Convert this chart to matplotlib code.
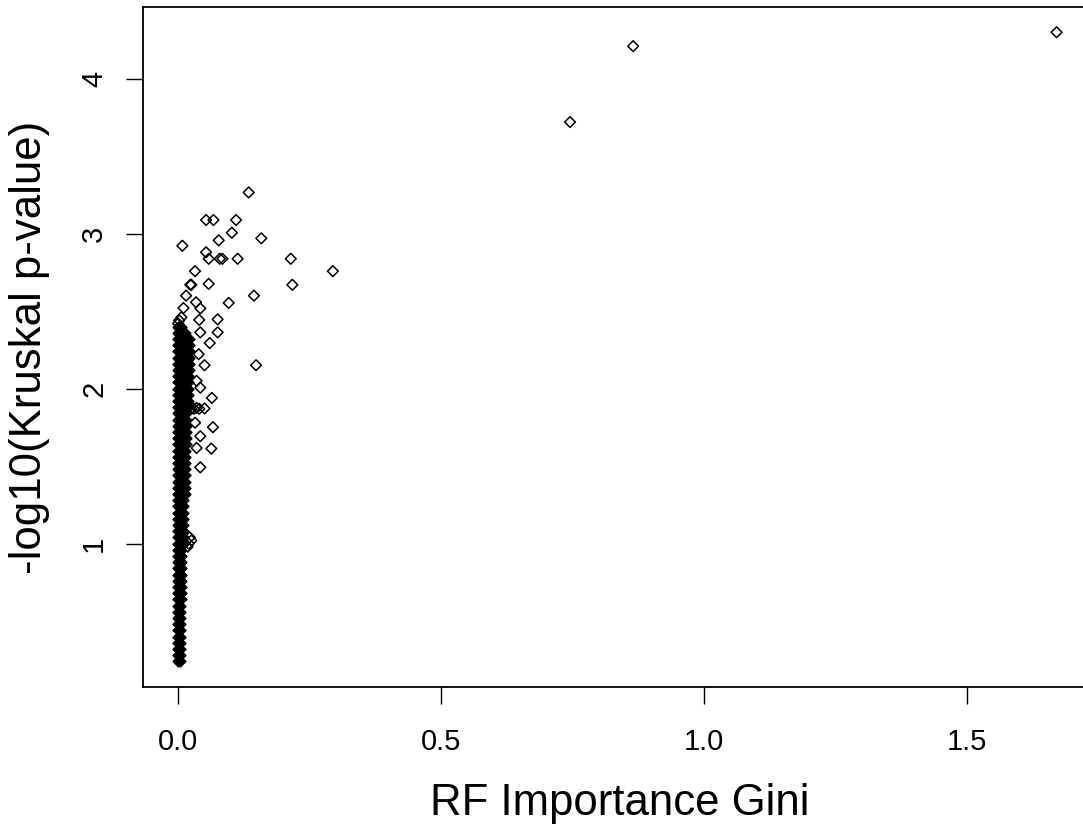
import matplotlib
matplotlib.use("Agg")
import matplotlib.pyplot as plt

plt.rcParams["font.family"] = ["Liberation Sans", "DejaVu Sans"]

# Isolated points (RF Gini importance, -log10 Kruskal p-value)
out_x = [0.745, 0.865, 1.670,
         0.134, 0.053, 0.067, 0.110, 0.102, 0.077, 0.158, 0.008, 0.053,
         0.058, 0.079, 0.084, 0.113, 0.214, 0.294, 0.032, 0.217, 0.058,
         0.023, 0.025, 0.144, 0.096, 0.042, 0.015, 0.010, 0.034, 0.040,
         0.075, 0.075, 0.042, 0.060, 0.148, 0.050, 0.039, 0.035, 0.042,
         0.064, 0.050, 0.066, 0.042, 0.063, 0.035, 0.042, 0.032,
         0.025, 0.030, 0.035, 0.040, 0.022, 0.025, 0.020, 0.018,
         0.002, 0.006, 0.000]
out_y = [3.72, 4.21, 4.30,
         3.266, 3.088, 3.088, 3.088, 3.006, 2.957, 2.970, 2.922, 2.880,
         2.838, 2.838, 2.838, 2.838, 2.838, 2.758, 2.758, 2.670, 2.676,
         2.670, 2.670, 2.600, 2.553, 2.518, 2.600, 2.520, 2.557, 2.443,
         2.447, 2.363, 2.363, 2.294, 2.151, 2.151, 2.222, 2.050, 2.006,
         1.940, 1.872, 1.751, 1.693, 1.613, 1.617, 1.492, 1.780,
         1.870, 1.870, 1.875, 1.870, 1.040, 1.020, 1.000, 0.980,
         2.440, 2.460, 2.420]

# Dense core near zero importance: row heights and how far each row reaches
core_y = [0.24, 0.28, 0.32, 0.36, 0.40, 0.44, 0.48, 0.52, 0.56, 0.60,
          0.64, 0.68, 0.72, 0.76, 0.80, 0.84, 0.88, 0.92, 0.96,
          1.00, 1.04, 1.08, 1.12, 1.16, 1.20, 1.24, 1.28,
          1.32, 1.36, 1.40, 1.44, 1.48, 1.52, 1.56, 1.60,
          1.64, 1.68, 1.72, 1.76, 1.80, 1.84,
          1.88, 1.92, 1.96, 2.00, 2.04, 2.08,
          2.12, 2.16, 2.20, 2.24, 2.28, 2.32,
          2.36, 2.40]
core_xmax = [0.003] * 10 + [0.006] * 9 + [0.009] * 8 + [0.012] * 8 + \
            [0.015] * 6 + [0.018] * 6 + [0.021] * 6 + [0.012, 0.006]
core_dx = [0.0, 0.003, 0.006, 0.009, 0.012, 0.015, 0.018, 0.021]

cx, cy = [], []
for y, xm in zip(core_y, core_xmax):
    for dx in core_dx:
        if dx <= xm + 1e-9:
            cx.append(dx)
            cy.append(y)

fig = plt.figure(figsize=(10.83, 8.25), dpi=100)
ax = fig.add_axes([0.132, 0.167, 0.881, 0.824])

ax.scatter(cx, cy, marker="D", s=30, facecolors="black",
           edgecolors="black", linewidths=1.1)
ax.scatter(out_x, out_y, marker="D", s=30, facecolors="none",
           edgecolors="black", linewidths=1.1)

ax.set_xlim(-0.067, 1.747)
ax.set_ylim(0.073, 4.46)
ax.set_xticks([0.0, 0.5, 1.0, 1.5])
ax.set_xticklabels(["0.0", "0.5", "1.0", "1.5"])
ax.set_yticks([1, 2, 3, 4])
ax.set_yticklabels(["1", "2", "3", "4"], rotation=90, va="center")

for sp in ax.spines.values():
    sp.set_linewidth(1.3)
ax.tick_params(axis="both", direction="out", length=12, width=1.0,
               labelsize=21, colors="black")
ax.tick_params(axis="x", pad=17)
ax.tick_params(axis="y", pad=13)

ax.set_xlabel("RF Importance Gini", fontsize=31.5, labelpad=20)
ax.set_ylabel("-log10(Kruskal p-value)", fontsize=31.5, labelpad=22)

fig.savefig("out.png", dpi=100)
